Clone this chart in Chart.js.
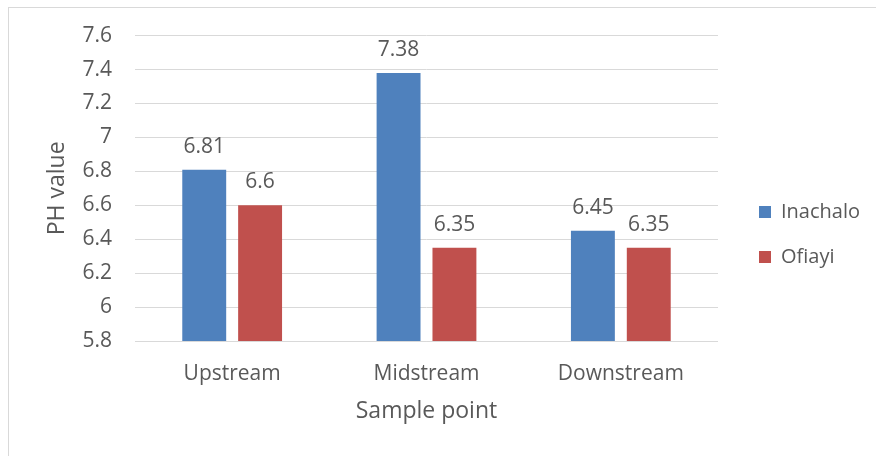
<!DOCTYPE html>
<html>
<head>
<meta charset="utf-8">
<script src="https://cdn.jsdelivr.net/npm/chart.js@4/dist/chart.umd.min.js"></script>
<style>
html,body{margin:0;padding:0;background:#fff;}
#wrap{width:876px;height:456px;position:relative;}
</style>
</head>
<body>
<div id="wrap"><canvas id="c" width="876" height="456"></canvas></div>
<script>
const categories = ["Upstream", "Midstream", "Downstream"];
const inachalo = [6.81, 7.38, 6.45];
const ofiayi = [6.6, 6.35, 6.35];
const seriesNames = ["Inachalo", "Ofiayi"];
const yMin = 5.8, yMax = 7.6, yStep = 0.2;

const FONT = "'Open Sans', sans-serif";
const TXT = "#595959";

const frame = {
  id: 'frame',
  beforeDraw(chart) {
    const ctx = chart.ctx;
    ctx.save();
    ctx.fillStyle = '#fff';
    ctx.fillRect(0, 0, chart.width, chart.height);
    ctx.strokeStyle = '#d9d9d9';
    ctx.lineWidth = 1;
    ctx.strokeRect(8.5, 7.5, chart.width + 10, chart.height + 10);
    ctx.restore();
  }
};

const legendShift = {
  id: 'legendShift',
  afterLayout(chart) {
    const lg = chart.legend;
    if (!lg) return;
    lg.left += 16; lg.right += 16;
    lg.top -= 11; lg.bottom -= 11;
  }
};

const valueLabels = {
  id: 'valueLabels',
  afterDatasetsDraw(chart) {
    const ctx = chart.ctx;
    ctx.save();
    ctx.font = "21px " + FONT;
    ctx.fillStyle = TXT;
    ctx.textAlign = 'center';
    ctx.textBaseline = 'middle';
    chart.data.datasets.forEach((ds, i) => {
      chart.getDatasetMeta(i).data.forEach((bar, j) => {
        ctx.fillText(String(ds.data[j]), bar.x, bar.y - 23);
      });
    });
    ctx.restore();
  }
};

new Chart(document.getElementById('c'), {
  type: 'bar',
  data: {
    labels: categories,
    datasets: [
      { label: seriesNames[0], data: inachalo, backgroundColor: '#4f81bd' },
      { label: seriesNames[1], data: ofiayi, backgroundColor: '#c0504d' }
    ]
  },
  options: {
    responsive: false,
    animation: false,
    devicePixelRatio: 1,
    categoryPercentage: 0.575,
    barPercentage: 0.786,
    layout: { padding: { top: 35, left: 40, right: 22, bottom: 0 } },
    plugins: {
      legend: {
        position: 'right',
        labels: {
          boxWidth: 12, boxHeight: 12, padding: 25,
          color: TXT, font: { family: FONT, size: 20 }
        }
      },
      tooltip: { enabled: false }
    },
    scales: {
      x: {
        grid: { display: false },
        border: { display: true, color: '#d9d9d9' },
        ticks: { color: TXT, font: { family: FONT, size: 21 }, padding: 12 },
        title: { display: true, text: 'Sample point', color: TXT, font: { family: FONT, size: 23 }, padding: { top: 4, bottom: 31 } },
        afterFit(scale) { scale.height = 115; }
      },
      y: {
        min: yMin, max: yMax,
        grid: { color: '#d9d9d9', drawTicks: false },
        border: { display: false },
        ticks: { stepSize: yStep, color: TXT, font: { family: FONT, size: 21 }, padding: 23,
                 callback: v => String(+(+v).toFixed(1)) },
        title: { display: true, text: 'PH value', color: TXT, font: { family: FONT, size: 23 }, padding: { top: 4, bottom: 4 } },
        afterFit(scale) { scale.width = 95; }
      }
    }
  },
  plugins: [frame, legendShift, valueLabels]
});
</script>
</body>
</html>
